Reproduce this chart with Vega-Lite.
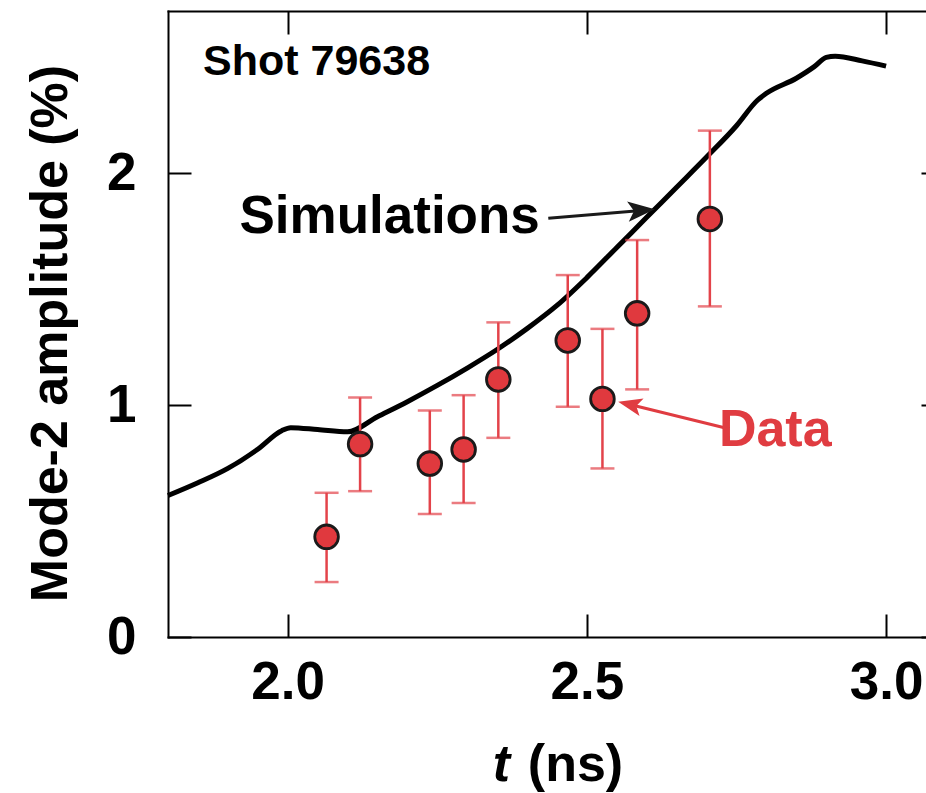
{
  "$schema": "https://vega.github.io/schema/vega-lite/v6.json",
  "width": 758,
  "height": 626,
  "autosize": {"type": "none"},
  "padding": {"left": 168, "top": 11, "right": 0, "bottom": 156},
  "background": "white",
  "config": {
    "view": {"stroke": null},
    "font": "Liberation Sans",
    "axis": {
      "grid": false,
      "domainColor": "#000",
      "domainWidth": 2,
      "domainCap": "square",
      "tickColor": "#000",
      "tickWidth": 2,
      "tickSize": -23,
      "labelFont": "Liberation Sans",
      "labelFontWeight": "bold",
      "labelFontSize": 53,
      "labelColor": "#000",
      "titleFont": "Liberation Sans",
      "titleFontWeight": "bold",
      "titleFontSize": 52,
      "titleColor": "#000"
    },
    "axisLeft": {"labelPadding": 55, "titlePadding": 29, "titleY": 322},
    "axisBottom": {"labelPadding": 42}
  },
  "datasets": {
    "curve": [
      {"t": 1.80, "amp": 0.61},
      {"t": 1.85, "amp": 0.665},
      {"t": 1.90, "amp": 0.727},
      {"t": 1.95, "amp": 0.81},
      {"t": 1.99, "amp": 0.89},
      {"t": 2.005, "amp": 0.903},
      {"t": 2.05, "amp": 0.895},
      {"t": 2.10, "amp": 0.885},
      {"t": 2.15, "amp": 0.95},
      {"t": 2.20, "amp": 1.015},
      {"t": 2.25, "amp": 1.085},
      {"t": 2.30, "amp": 1.16},
      {"t": 2.35, "amp": 1.24},
      {"t": 2.40, "amp": 1.33},
      {"t": 2.45, "amp": 1.43},
      {"t": 2.50, "amp": 1.55},
      {"t": 2.55, "amp": 1.68},
      {"t": 2.60, "amp": 1.81},
      {"t": 2.65, "amp": 1.94},
      {"t": 2.70, "amp": 2.07},
      {"t": 2.75, "amp": 2.205},
      {"t": 2.785, "amp": 2.315},
      {"t": 2.80, "amp": 2.345},
      {"t": 2.85, "amp": 2.41},
      {"t": 2.88, "amp": 2.46},
      {"t": 2.90, "amp": 2.50},
      {"t": 2.915, "amp": 2.505},
      {"t": 2.96, "amp": 2.485},
      {"t": 3.00, "amp": 2.462}
    ],
    "measured": [
      {"t": 2.065, "amp": 0.432, "lo": 0.237, "hi": 0.622},
      {"t": 2.121, "amp": 0.832, "lo": 0.629, "hi": 1.033},
      {"t": 2.2375, "amp": 0.748, "lo": 0.530, "hi": 0.977},
      {"t": 2.294, "amp": 0.809, "lo": 0.578, "hi": 1.043},
      {"t": 2.352, "amp": 1.111, "lo": 0.859, "hi": 1.357},
      {"t": 2.468, "amp": 1.279, "lo": 0.993, "hi": 1.561},
      {"t": 2.526, "amp": 1.027, "lo": 0.727, "hi": 1.329},
      {"t": 2.584, "amp": 1.396, "lo": 1.068, "hi": 1.712},
      {"t": 2.7055, "amp": 1.803, "lo": 1.426, "hi": 2.184}
    ]
  },
  "resolve": {"scale": {"x": "independent", "y": "independent"}},
  "layer": [
    {
      "data": {"name": "curve"},
      "mark": {"type": "line", "color": "#000", "strokeWidth": 5, "strokeJoin": "round", "strokeCap": "butt", "interpolate": "monotone"},
      "encoding": {
        "x": {"field": "t", "type": "quantitative", "scale": {"domain": [1.8, 3.0667], "nice": false, "zero": false},
              "axis": {"orient": "top", "labels": false, "values": [2, 2.5, 3], "tickSize": -23}, "title": null},
        "y": {"field": "amp", "type": "quantitative", "scale": {"domain": [0, 2.7], "nice": false},
              "axis": {"orient": "right", "labels": false, "domain": false, "values": [0, 1, 2], "tickSize": -5}, "title": null}
      }
    },
    {
      "layer": [
        {
          "data": {"name": "measured"},
          "mark": {"type": "rule", "color": "#e3434a", "strokeWidth": 2.5},
          "encoding": {
            "x": {"field": "t", "type": "quantitative", "scale": {"domain": [1.8, 3.0667], "nice": false, "zero": false}, "axis": {"values": [2, 2.5, 3], "format": ".1f"}, "title": null},
            "y": {"field": "lo", "type": "quantitative", "scale": {"domain": [0, 2.7], "nice": false}, "axis": {"values": [0, 1, 2]}, "title": "Mode-2 amplitude (%)"},
            "y2": {"field": "hi"}
          }
        },
        {
          "data": {"name": "measured"},
          "mark": {"type": "tick", "orient": "horizontal", "color": "#e3434a", "size": 24, "thickness": 2.5},
          "encoding": {
            "x": {"field": "t", "type": "quantitative", "scale": {"domain": [1.8, 3.0667], "nice": false, "zero": false}, "axis": {"values": [2, 2.5, 3], "format": ".1f"}, "title": null},
            "y": {"field": "lo", "type": "quantitative", "scale": {"domain": [0, 2.7], "nice": false}, "axis": {"values": [0, 1, 2]}, "title": "Mode-2 amplitude (%)"}
          }
        },
        {
          "data": {"name": "measured"},
          "mark": {"type": "tick", "orient": "horizontal", "color": "#e3434a", "size": 24, "thickness": 2.5},
          "encoding": {
            "x": {"field": "t", "type": "quantitative", "scale": {"domain": [1.8, 3.0667], "nice": false, "zero": false}, "axis": {"values": [2, 2.5, 3], "format": ".1f"}, "title": null},
            "y": {"field": "hi", "type": "quantitative", "scale": {"domain": [0, 2.7], "nice": false}, "axis": {"values": [0, 1, 2]}, "title": "Mode-2 amplitude (%)"}
          }
        },
        {
          "data": {"name": "measured"},
          "mark": {"type": "point", "shape": "circle", "filled": true, "size": 560, "fill": "#e0393e", "stroke": "#1a1a1a", "strokeWidth": 2.8, "opacity": 1},
          "encoding": {
            "x": {"field": "t", "type": "quantitative", "scale": {"domain": [1.8, 3.0667], "nice": false, "zero": false}, "axis": {"values": [2, 2.5, 3], "format": ".1f"}, "title": null},
            "y": {"field": "amp", "type": "quantitative", "scale": {"domain": [0, 2.7], "nice": false}, "axis": {"values": [0, 1, 2]}, "title": "Mode-2 amplitude (%)"}
          }
        },
        {
          "data": {"values": [{"t": 2.4355, "amp": 1.806, "t2": 2.5911, "amp2": 1.8397}]},
          "mark": {"type": "rule", "color": "#1a1a1a", "strokeWidth": 3},
          "encoding": {
            "x": {"field": "t", "type": "quantitative", "scale": {"domain": [1.8, 3.0667], "nice": false, "zero": false}, "axis": {"values": [2, 2.5, 3], "format": ".1f"}, "title": null},
            "y": {"field": "amp", "type": "quantitative", "scale": {"domain": [0, 2.7], "nice": false}, "axis": {"values": [0, 1, 2]}, "title": "Mode-2 amplitude (%)"},
            "x2": {"field": "t2"},
            "y2": {"field": "amp2"}
          }
        },
        {
          "data": {"values": [{"t": 2.5911, "amp": 1.8397}]},
          "mark": {"type": "point", "shape": "M1,0L-1,-0.75L-0.55,0L-1,0.75Z", "filled": true, "size": 729, "angle": -4.8, "color": "#1a1a1a", "opacity": 1, "strokeWidth": 0},
          "encoding": {
            "x": {"field": "t", "type": "quantitative", "scale": {"domain": [1.8, 3.0667], "nice": false, "zero": false}, "axis": {"values": [2, 2.5, 3], "format": ".1f"}, "title": null},
            "y": {"field": "amp", "type": "quantitative", "scale": {"domain": [0, 2.7], "nice": false}, "axis": {"values": [0, 1, 2]}, "title": "Mode-2 amplitude (%)"}
          }
        },
        {
          "data": {"values": [{"t": 2.7282, "amp": 0.9034, "t2": 2.5718, "amp2": 1.0026}]},
          "mark": {"type": "rule", "color": "#e03c41", "strokeWidth": 3},
          "encoding": {
            "x": {"field": "t", "type": "quantitative", "scale": {"domain": [1.8, 3.0667], "nice": false, "zero": false}, "axis": {"values": [2, 2.5, 3], "format": ".1f"}, "title": null},
            "y": {"field": "amp", "type": "quantitative", "scale": {"domain": [0, 2.7], "nice": false}, "axis": {"values": [0, 1, 2]}, "title": "Mode-2 amplitude (%)"},
            "x2": {"field": "t2"},
            "y2": {"field": "amp2"}
          }
        },
        {
          "data": {"values": [{"t": 2.5718, "amp": 1.0026}]},
          "mark": {"type": "point", "shape": "M1,0L-1,-0.75L-0.55,0L-1,0.75Z", "filled": true, "size": 576, "angle": 193, "color": "#e03c41", "opacity": 1, "strokeWidth": 0},
          "encoding": {
            "x": {"field": "t", "type": "quantitative", "scale": {"domain": [1.8, 3.0667], "nice": false, "zero": false}, "axis": {"values": [2, 2.5, 3], "format": ".1f"}, "title": null},
            "y": {"field": "amp", "type": "quantitative", "scale": {"domain": [0, 2.7], "nice": false}, "axis": {"values": [0, 1, 2]}, "title": "Mode-2 amplitude (%)"}
          }
        },
        {
          "data": {"values": [{"t": 1.8586, "amp": 2.424, "label": "Shot 79638"}]},
          "mark": {"type": "text", "align": "left", "baseline": "alphabetic", "font": "Liberation Sans", "fontWeight": "bold", "fontSize": 43, "color": "#000"},
          "encoding": {
            "x": {"field": "t", "type": "quantitative", "scale": {"domain": [1.8, 3.0667], "nice": false, "zero": false}, "axis": {"values": [2, 2.5, 3], "format": ".1f"}, "title": null},
            "y": {"field": "amp", "type": "quantitative", "scale": {"domain": [0, 2.7], "nice": false}, "axis": {"values": [0, 1, 2]}, "title": "Mode-2 amplitude (%)"},
            "text": {"field": "label"}
          }
        },
        {
          "data": {"values": [{"t": 2.4214, "amp": 1.741, "label": "Simulations"}]},
          "mark": {"type": "text", "align": "right", "baseline": "alphabetic", "font": "Liberation Sans", "fontWeight": "bold", "fontSize": 53, "color": "#000"},
          "encoding": {
            "x": {"field": "t", "type": "quantitative", "scale": {"domain": [1.8, 3.0667], "nice": false, "zero": false}, "axis": {"values": [2, 2.5, 3], "format": ".1f"}, "title": null},
            "y": {"field": "amp", "type": "quantitative", "scale": {"domain": [0, 2.7], "nice": false}, "axis": {"values": [0, 1, 2]}, "title": "Mode-2 amplitude (%)"},
            "text": {"field": "label"}
          }
        },
        {
          "data": {"values": [{"t": 2.7206, "amp": 0.823, "label": "Data"}]},
          "mark": {"type": "text", "align": "left", "baseline": "alphabetic", "font": "Liberation Sans", "fontWeight": "bold", "fontSize": 52, "color": "#e03c41"},
          "encoding": {
            "x": {"field": "t", "type": "quantitative", "scale": {"domain": [1.8, 3.0667], "nice": false, "zero": false}, "axis": {"values": [2, 2.5, 3], "format": ".1f"}, "title": null},
            "y": {"field": "amp", "type": "quantitative", "scale": {"domain": [0, 2.7], "nice": false}, "axis": {"values": [0, 1, 2]}, "title": "Mode-2 amplitude (%)"},
            "text": {"field": "label"}
          }
        },
        {
          "data": {"values": [{"t": 2.3428, "amp": -0.623, "label": "t"}]},
          "mark": {"type": "text", "align": "left", "baseline": "alphabetic", "font": "Liberation Sans", "fontWeight": "bold", "fontStyle": "italic", "fontSize": 52, "color": "#000"},
          "encoding": {
            "x": {"field": "t", "type": "quantitative", "scale": {"domain": [1.8, 3.0667], "nice": false, "zero": false}, "axis": {"values": [2, 2.5, 3], "format": ".1f"}, "title": null},
            "y": {"field": "amp", "type": "quantitative", "scale": {"domain": [0, 2.7], "nice": false}, "axis": {"values": [0, 1, 2]}, "title": "Mode-2 amplitude (%)"},
            "text": {"field": "label"}
          }
        },
        {
          "data": {"values": [{"t": 2.4013, "amp": -0.623, "label": "(ns)"}]},
          "mark": {"type": "text", "align": "left", "baseline": "alphabetic", "font": "Liberation Sans", "fontWeight": "bold", "fontSize": 52, "color": "#000"},
          "encoding": {
            "x": {"field": "t", "type": "quantitative", "scale": {"domain": [1.8, 3.0667], "nice": false, "zero": false}, "axis": {"values": [2, 2.5, 3], "format": ".1f"}, "title": null},
            "y": {"field": "amp", "type": "quantitative", "scale": {"domain": [0, 2.7], "nice": false}, "axis": {"values": [0, 1, 2]}, "title": "Mode-2 amplitude (%)"},
            "text": {"field": "label"}
          }
        }
      ]
    }
  ]
}
